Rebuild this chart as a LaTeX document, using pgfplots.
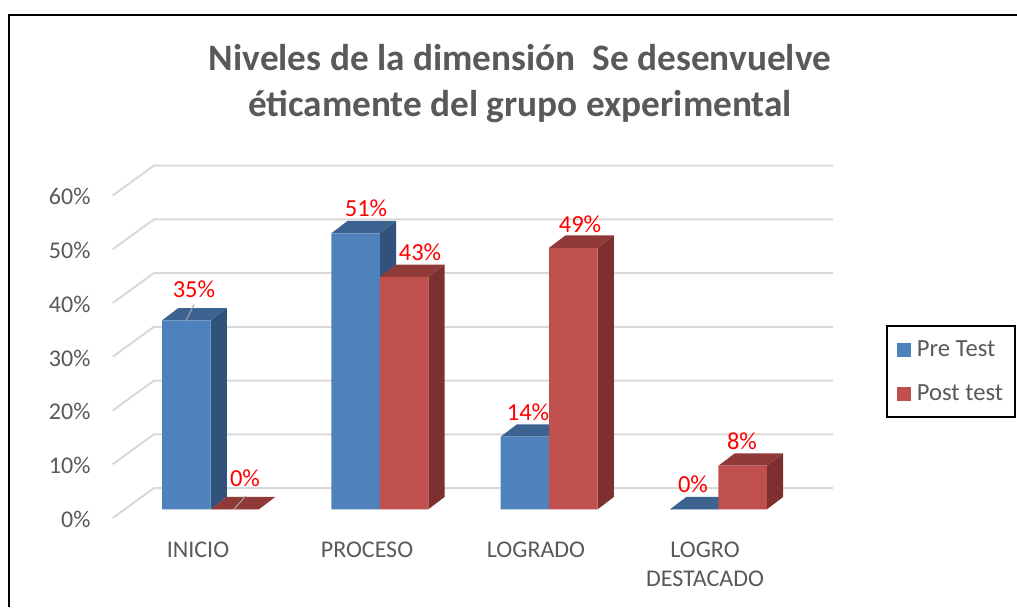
\documentclass[border=0pt]{standalone}
\usepackage{fontspec}
\setmainfont{Carlito}
\usepackage{pgfplots}
\pgfplotsset{compat=1.18}
\definecolor{txt}{HTML}{595959}
\definecolor{gridc}{HTML}{D9D9D9}
\definecolor{bf}{HTML}{4F81BD}
\definecolor{bt}{HTML}{3C6290}
\definecolor{bs}{HTML}{31527A}
\definecolor{rf}{HTML}{C0504D}
\definecolor{rt}{HTML}{8F3A38}
\definecolor{rs}{HTML}{7D302E}
\newcommand{\grid}[3]{\addplot[gridc,line width=2pt,forget plot] coordinates {(112.7,#1) (154,#2) (833,#2)};}
\newcommand{\poly}[2]{\addplot[fill=#1,draw=none,forget plot] coordinates {#2} --cycle;}
\newcommand{\lab}[3]{\node[text=red,font=\fontsize{24.5}{26}\selectfont,anchor=center,inner sep=0pt] at (axis cs:#1,#2) {#3};}
\begin{document}
\begin{tikzpicture}
\begin{axis}[
  scale only axis, width=1017pt, height=607pt,
  xmin=0, xmax=1017, ymin=-18.177, ymax=94.753,
  axis line style={draw=none}, tick style={draw=none},
  xtick={198,367,536,705},
  xticklabels={INICIO,PROCESO,LOGRADO,{LOGRO\\DESTACADO}},
  x tick label style={align=center,font=\fontsize{24}{29}\selectfont,text=txt,yshift=69pt,anchor=north},
  ytick={-1.85,8.15,18.15,28.15,38.15,48.15,58.15},
  yticklabels={0\%,10\%,20\%,30\%,40\%,50\%,60\%},
  y tick label style={font=\fontsize{24}{26}\selectfont,text=txt,xshift=94pt,anchor=east},
  title={Niveles de la dimensión\ \ Se desenvuelve\\éticamente del grupo experimental},
  title style={at={(axis cs:520,78.0)},anchor=center,align=center,text=txt,
    font=\fontsize{37.3}{46}\selectfont\bfseries},
  legend style={at={(axis cs:951,25.6)},anchor=center,draw=black,line width=2pt,
    font=\fontsize{24.6}{26}\selectfont,text=txt,inner xsep=9.5pt,inner ysep=12.5pt,
    row sep=23pt,cells={anchor=west}},
  legend image code/.code={\fill[#1,draw=none] (0pt,-7pt) rectangle (14pt,7pt); \path (18pt,0pt);},
]
% walls
\grid{-1.62}{3.96}{} \grid{8.38}{13.96}{} \grid{18.38}{23.96}{} \grid{28.38}{33.96}{}
\grid{38.38}{43.96}{} \grid{48.38}{53.96}{} \grid{58.38}{63.96}{}
% Pre Test
\poly{bs}{(210.5,0)(226.8,2.3)(226.8,37.44)(210.5,35.14)}
\poly{bt}{(162,35.14)(178.3,37.44)(226.8,37.44)(210.5,35.14)}
\poly{bs}{(379.8,0)(396.1,2.3)(396.1,53.65)(379.8,51.35)}
\poly{bt}{(331.3,51.35)(347.6,53.65)(396.1,53.65)(379.8,51.35)}
\poly{bs}{(549.1,0)(565.4,2.3)(565.4,15.81)(549.1,13.51)}
\poly{bt}{(500.6,13.51)(516.9,15.81)(565.4,15.81)(549.1,13.51)}
\poly{bt}{(670,0)(686.3,2.3)(734.8,2.3)(718.5,0)}
\addplot[ybar,bar width=48.5pt,bar shift=0pt,fill=bf,draw=none]
  coordinates {(186.25,35.14)(355.55,51.35)(524.85,13.51)(694.25,0)};
\addlegendentry{Pre Test}
% Post test
\poly{rt}{(210.5,0)(226.8,2.3)(275.3,2.3)(259,0)}
\poly{rs}{(428.3,0)(444.6,2.3)(444.6,45.54)(428.3,43.24)}
\poly{rt}{(379.8,43.24)(396.1,45.54)(444.6,45.54)(428.3,43.24)}
\poly{rs}{(597.6,0)(613.9,2.3)(613.9,50.95)(597.6,48.65)}
\poly{rt}{(549.1,48.65)(565.4,50.95)(613.9,50.95)(597.6,48.65)}
\poly{rs}{(766.9,0)(783.2,2.3)(783.2,10.41)(766.9,8.11)}
\poly{rt}{(718.4,8.11)(734.7,10.41)(783.2,10.41)(766.9,8.11)}
\addplot[ybar,bar width=48.5pt,bar shift=0pt,fill=rf,draw=none]
  coordinates {(234.75,0)(404.05,43.24)(573.35,48.65)(742.65,8.11)};
\addlegendentry{Post test}
% leader lines
\addplot[gray!70,line width=1pt,forget plot] coordinates {(186,35.14)(194,38.1)};
\addplot[gray!70,line width=1pt,forget plot] coordinates {(234,0)(245.7,2.5)};
% labels
\lab{194}{41.0}{35\%}
\lab{245}{5.7}{0\%}
\lab{366}{56.0}{51\%}
\lab{420}{47.8}{43\%}
\lab{528}{18.0}{14\%}
\lab{580}{53.0}{49\%}
\lab{693}{4.6}{0\%}
\lab{742}{12.6}{8\%}
% frame
\draw[black,line width=2pt] (axis cs:8.5,-18.177) -- (axis cs:8.5,91.96) -- (axis cs:1017,91.96);
\end{axis}
\end{tikzpicture}
\end{document}
